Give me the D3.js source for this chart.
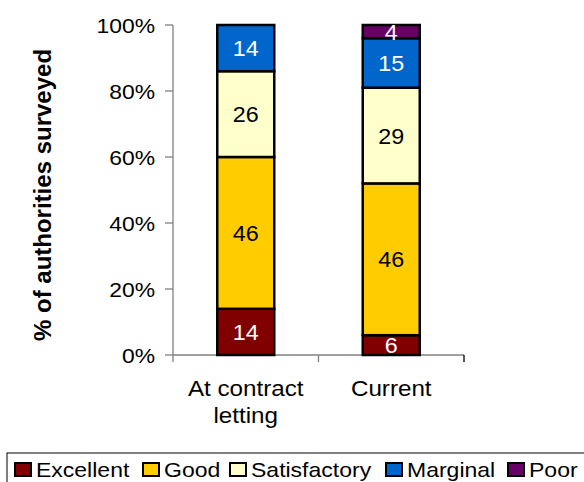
<!DOCTYPE html>
<html>
<head>
<meta charset="utf-8">
<script src="https://cdn.jsdelivr.net/npm/d3@7"></script>
<style>
body { margin: 0; background: #fff; }
text { font-family: Arial, "Liberation Sans", sans-serif; }
</style>
</head>
<body>
<script>
// Chart data
let categories = ["At contract letting", "Current"];
let categoryLines = [["At contract", "letting"], ["Current"]];
let series = ["Excellent", "Good", "Satisfactory", "Marginal", "Poor"];
let excellent = [14, 6];
let good = [46, 46];
let satisfactory = [26, 29];
let marginal = [14, 15];
let poor = [0, 4];
let yTicks = [0, 20, 40, 60, 80, 100];

let colors = ["#800000", "#ffcc00", "#ffffcc", "#0066cc", "#660066"];
let labelColors = ["#fff", "#000", "#000", "#fff", "#fff"];

let width = 584;
let height = 482;

let svg = d3.select("body")
            .append("svg")
            .attr("width", width)
            .attr("height", height);

// text that is a little wider than the font (the original was stretched)
function addText(px, py, sx, str) {
    return svg.append("text")
        .attr("transform", "translate(" + px + "," + py + ") scale(" + sx + ",1)")
        .text(str);
}

// rows for stacking
let rows = categories.map((c, i) => ({
    cat: c,
    Excellent: excellent[i],
    Good: good[i],
    Satisfactory: satisfactory[i],
    Marginal: marginal[i],
    Poor: poor[i]
}));
let stacked = d3.stack().keys(series)(rows);

let x = d3.scaleBand()
          .domain(categories)
          .range([173, 464]);

let y = d3.scaleLinear()
          .domain([0, 100])
          .range([355, 25]);

let barW = 57;

// axes
let axisColor = "#808080";
svg.append("line")
    .attr("x1", 173).attr("x2", 173)
    .attr("y1", y(100)).attr("y2", y(0))
    .attr("stroke", axisColor).attr("stroke-width", 1.3);
svg.append("line")
    .attr("x1", 173).attr("x2", 464)
    .attr("y1", y(0)).attr("y2", y(0))
    .attr("stroke", axisColor).attr("stroke-width", 1.3);

svg.selectAll(".ytick")
    .data(yTicks)
    .enter().append("line")
    .attr("x1", 165).attr("x2", 173)
    .attr("y1", d => y(d)).attr("y2", d => y(d))
    .attr("stroke", axisColor).attr("stroke-width", 1.3);

yTicks.forEach(d => {
    addText(155, y(d) + 7.5, 1.09, d + "%")
        .attr("text-anchor", "end")
        .attr("font-size", 21);
});

// category ticks
let catEdges = [x(categories[0]), x(categories[1]), x(categories[1]) + x.bandwidth()];
svg.selectAll(".xtick")
    .data(catEdges)
    .enter().append("line")
    .attr("x1", d => d).attr("x2", d => d)
    .attr("y1", y(0)).attr("y2", y(0) + 7)
    .attr("stroke", (d, i) => i == 2 ? "#000" : axisColor)
    .attr("stroke-width", 1.3);

// y title
svg.append("text")
    .attr("transform", "translate(51,195) rotate(-90)")
    .attr("text-anchor", "middle")
    .attr("font-size", 24)
    .attr("font-weight", "bold")
    .text("% of authorities surveyed");

// bars
let layer = svg.selectAll(".layer")
    .data(stacked)
    .enter().append("g")
    .attr("fill", (d, i) => colors[i]);

layer.selectAll("rect")
    .data(d => d.filter(s => s[1] - s[0] > 0))
    .enter().append("rect")
    .attr("x", d => x(d.data.cat) + x.bandwidth() / 2 - barW / 2)
    .attr("width", barW)
    .attr("y", d => y(d[1]))
    .attr("height", d => y(d[0]) - y(d[1]))
    .attr("stroke", "#000")
    .attr("stroke-width", 2.5);

stacked.forEach((s, si) => {
    s.filter(d => d[1] - d[0] > 0).forEach(d => {
        addText(x(d.data.cat) + x.bandwidth() / 2, (y(d[0]) + y(d[1])) / 2 + 8, 1.06, d[1] - d[0])
            .attr("text-anchor", "middle")
            .attr("font-size", 22)
            .attr("fill", labelColors[si]);
    });
});

// category labels
categoryLines.forEach((lines, i) => {
    lines.forEach((ln, j) => {
        addText(x(categories[i]) + x.bandwidth() / 2, 396 + j * 27, 1.1, ln)
            .attr("text-anchor", "middle")
            .attr("font-size", 22);
    });
});

// legend
svg.append("rect")
    .attr("x", 7).attr("y", 453)
    .attr("width", 600).attr("height", 40)
    .attr("fill", "none")
    .attr("stroke", "#000")
    .attr("stroke-width", 1);

let legendX = [15, 143, 230, 386, 508];
series.forEach((s, i) => {
    svg.append("rect")
        .attr("x", legendX[i]).attr("y", 463)
        .attr("width", 16).attr("height", 13)
        .attr("fill", colors[i])
        .attr("stroke", "#000")
        .attr("stroke-width", 2);
    addText(legendX[i] + 21, 477, 1.15, s)
        .attr("font-size", 20);
});
</script>
</body>
</html>
